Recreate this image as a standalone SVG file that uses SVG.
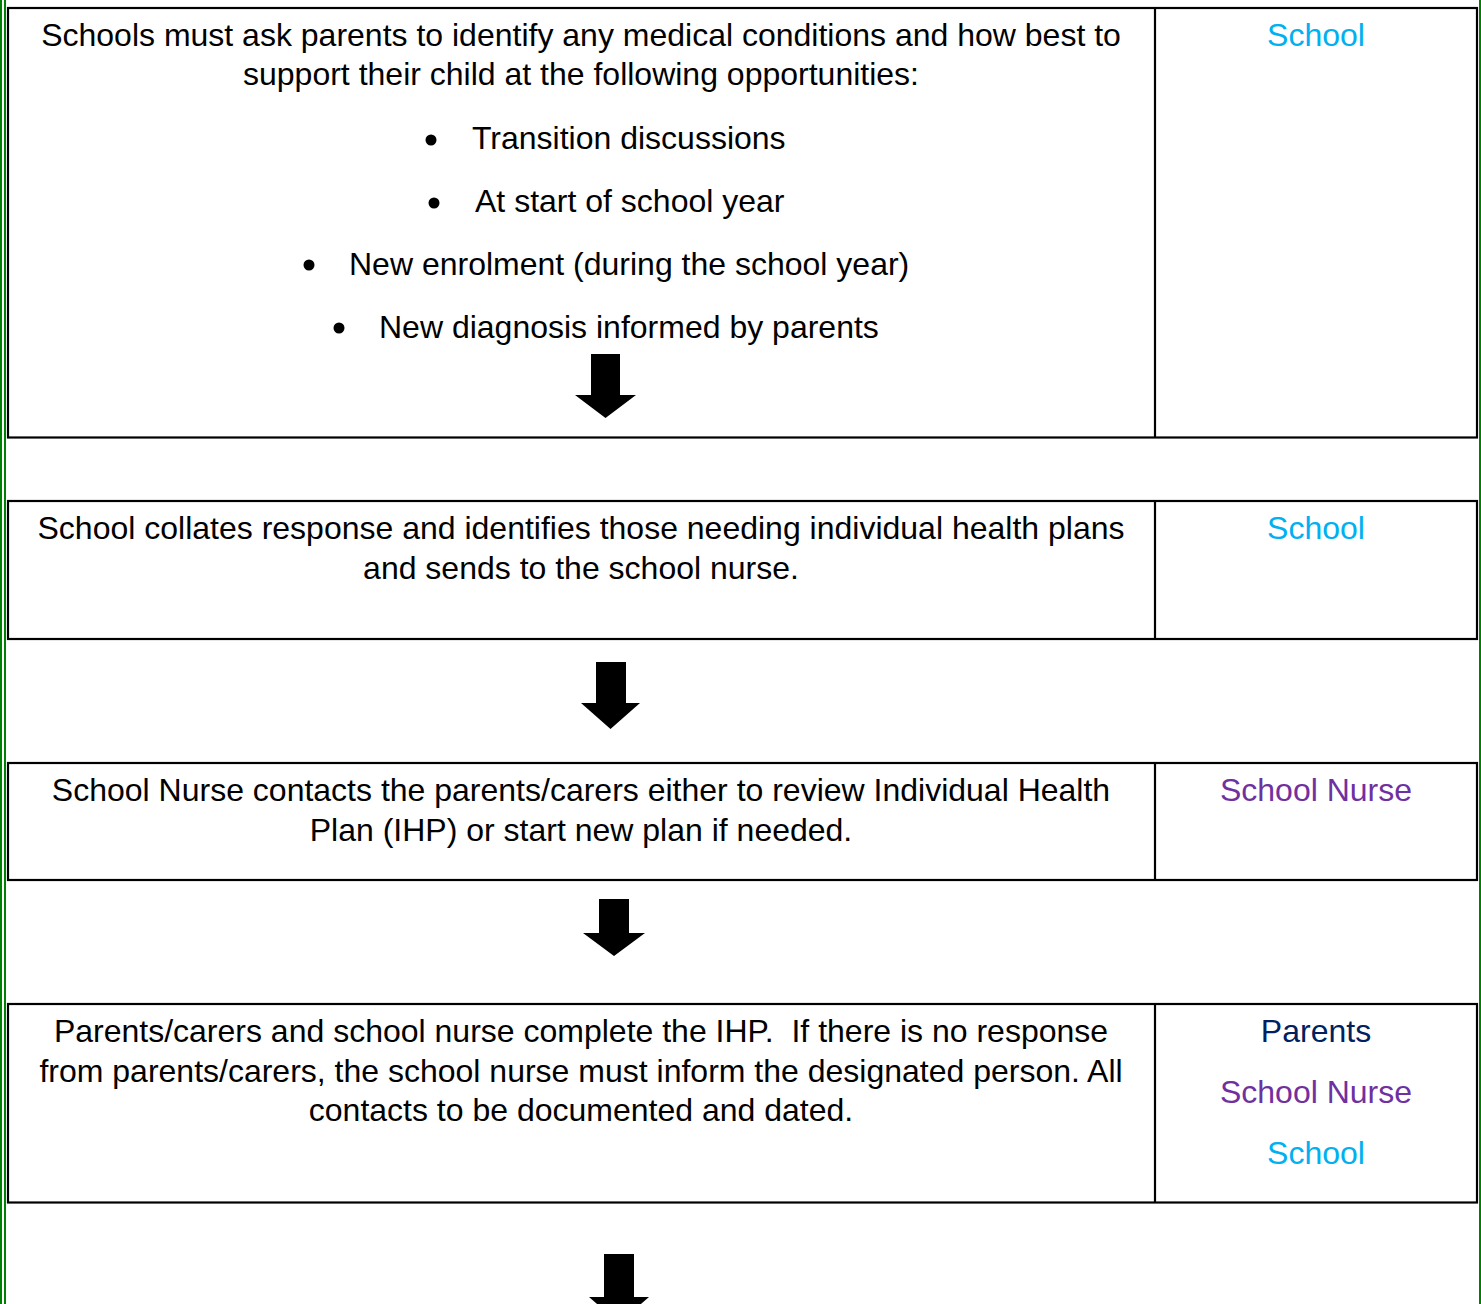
<svg xmlns="http://www.w3.org/2000/svg" width="1481" height="1304" viewBox="0 0 1481 1304">
<style>
.box{fill:#ffffff;stroke:#000000;stroke-width:2.2}
.t{font-family:"Liberation Sans",Arial,sans-serif;font-size:32px;fill:#000000}
.c{text-anchor:middle}
.school{fill:#00b0f0}
.nurse{fill:#7030a0}
.parents{fill:#002060}
.arrow{fill:#000000}
.green{stroke:#008000;stroke-width:2}
</style>
<rect x="0" y="0" width="1481" height="1304" fill="#ffffff"/>
<g id="page-border">
<line class="green" x1="1" y1="0" x2="1" y2="1304"/>
<line class="green" x1="5" y1="0" x2="5" y2="1304"/>
<line class="green" x1="1480" y1="0" x2="1480" y2="1304"/>
</g>
<g id="step1">
<rect class="box" x="8" y="8" width="1469" height="429.5"/>
<line class="box" x1="1155" y1="8" x2="1155" y2="437.5"/>
<text class="t c" x="581" y="46">Schools must ask parents to identify any medical conditions and how best to</text>
<text class="t c" x="581" y="85">support their child at the following opportunities:</text>
<circle cx="431" cy="140" r="5.5"/>
<text class="t" x="472" y="149">Transition discussions</text>
<circle cx="434" cy="203" r="5.5"/>
<text class="t" x="475" y="212">At start of school year</text>
<circle cx="309" cy="265" r="5.5"/>
<text class="t" x="349" y="274.5">New enrolment (during the school year)</text>
<circle cx="339" cy="328" r="5.5"/>
<text class="t" x="379" y="337.5">New diagnosis informed by parents</text>
<text class="t c school" x="1316" y="46">School</text>
</g>
<g id="step2">
<rect class="box" x="8" y="501" width="1469" height="138"/>
<line class="box" x1="1155" y1="501" x2="1155" y2="639"/>
<text class="t c" x="581" y="539">School collates response and identifies those needing individual health plans</text>
<text class="t c" x="581" y="579">and sends to the school nurse.</text>
<text class="t c school" x="1316" y="539">School</text>
</g>
<g id="step3">
<rect class="box" x="8" y="763" width="1469" height="117"/>
<line class="box" x1="1155" y1="763" x2="1155" y2="880"/>
<text class="t c" x="581" y="801">School Nurse contacts the parents/carers either to review Individual Health</text>
<text class="t c" x="581" y="841">Plan (IHP) or start new plan if needed.</text>
<text class="t c nurse" x="1316" y="801">School Nurse</text>
</g>
<g id="step4">
<rect class="box" x="8" y="1004" width="1469" height="198.5"/>
<line class="box" x1="1155" y1="1004" x2="1155" y2="1202.5"/>
<text class="t c" x="581" y="1042">Parents/carers and school nurse complete the IHP.&#160; If there is no response</text>
<text class="t c" x="581" y="1082">from parents/carers, the school nurse must inform the designated person. All</text>
<text class="t c" x="581" y="1121">contacts to be documented and dated.</text>
<text class="t c parents" x="1316" y="1042">Parents</text>
<text class="t c nurse" x="1316" y="1103">School Nurse</text>
<text class="t c school" x="1316" y="1164">School</text>
</g>
<g id="connectors">
<polygon class="arrow" points="591,354 620,354 620,395 636,395 605.5,418 575,395 591,395"/>
<polygon class="arrow" points="596,662 626,662 626,703 640,703 610.5,729 581,703 596,703"/>
<polygon class="arrow" points="599,899 629,899 629,933 645,933 614,956 583,933 599,933"/>
<polygon class="arrow" points="604,1254 634,1254 634,1297 649,1297 619,1323 589,1297 604,1297"/>
</g>
</svg>
